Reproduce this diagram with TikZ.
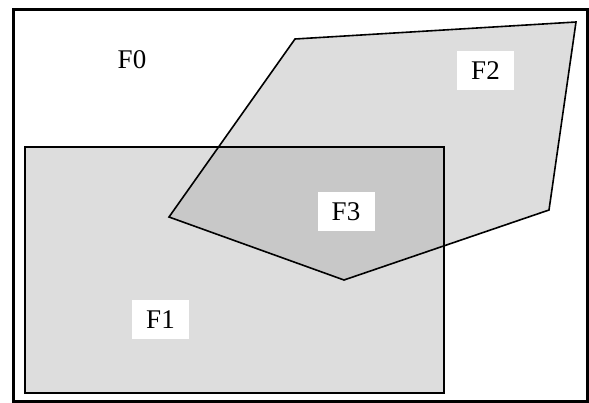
\documentclass[tikz,border=0pt]{standalone}
\usepackage{fontspec}
\setmainfont{Liberation Serif}
\definecolor{lightfill}{RGB}{221,221,221}
\definecolor{darkfill}{RGB}{200,200,200}
\tikzset{
  frame/.style={draw=black, line width=3pt},
  region/.style={draw=black, line width=1.6pt, line join=miter},
  lbl/.style={fill=white, inner sep=0pt, minimum width=57pt, minimum height=39pt, font=\fontsize{27}{30}\selectfont},
  plainlbl/.style={inner sep=0pt, font=\fontsize{27}{30}\selectfont}
}
\begin{document}
\begin{tikzpicture}[x=1pt, y=-1pt]
\useasboundingbox (0,0) rectangle (589,402);
% polygon F2 corners
\coordinate (p1) at (295,39);
\coordinate (p2) at (576,22);
\coordinate (p3) at (549,210);
\coordinate (p4) at (344,280);
\coordinate (p5) at (169,217);
% rectangle F1 corners
\coordinate (r1) at (25,147);
\coordinate (r2) at (444,393);
% fills
\fill[lightfill] (r1) rectangle (r2);
\fill[lightfill] (p1) -- (p2) -- (p3) -- (p4) -- (p5) -- cycle;
\begin{scope}
  \clip (r1) rectangle (r2);
  \fill[darkfill] (p1) -- (p2) -- (p3) -- (p4) -- (p5) -- cycle;
\end{scope}
% outlines
\draw[region] (r1) rectangle (r2);
\draw[region] (p1) -- (p2) -- (p3) -- (p4) -- (p5) -- cycle;
% outer frame
\draw[frame] (13,9) rectangle (587,401);
% labels
\node[plainlbl] (f0) at (132,60) {F0};
\node[lbl] (f2) at (485.5,70.5) {F2};
\node[lbl] (f3) at (346,211.5) {F3};
\node[lbl] (f1) at (160.5,319.5) {F1};
\end{tikzpicture}
\end{document}
